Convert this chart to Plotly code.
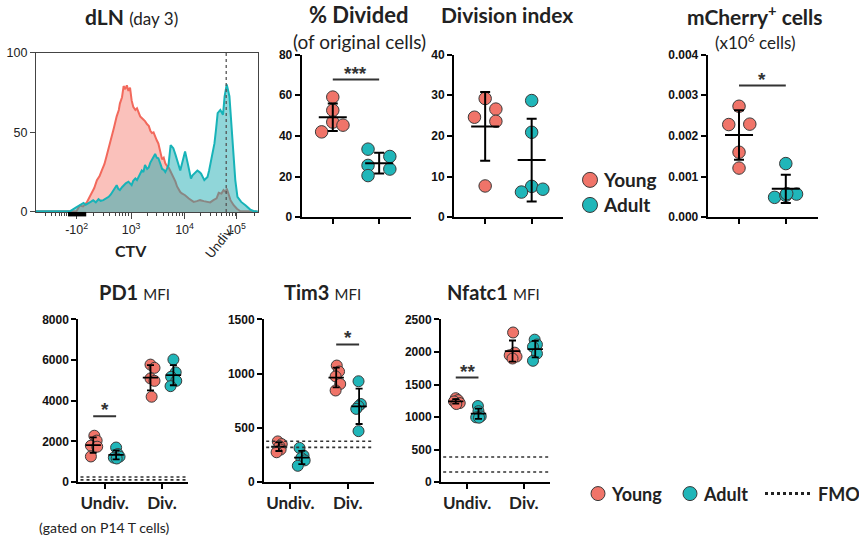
import plotly.graph_objects as go
import numpy as np

W, H = 859, 542

# ---------------- data ----------------
# CTV histogram (x in display decades of CTV, y in % of max)
hist_young_pos = [1.22, 1.60, 1.98, 2.04, 2.10, 2.17, 2.22, 2.26, 2.31, 2.36, 2.41, 2.45, 2.50, 2.54, 2.59, 2.64,
                  2.68, 2.73, 2.77, 2.79, 2.83, 2.86, 2.89, 2.92, 2.95, 2.98, 3.01, 3.04, 3.08, 3.11, 3.14, 3.17,
                  3.20, 3.23, 3.26, 3.30, 3.33, 3.36, 3.39, 3.42, 3.45, 3.48, 3.51, 3.55, 3.58, 3.61, 3.64, 3.67,
                  3.70, 3.73, 3.76, 3.80, 3.83, 3.86, 3.89, 3.92, 3.95, 4.01, 4.08, 4.17, 4.23, 4.29, 4.36, 4.42,
                  4.48, 4.54, 4.60, 4.64, 4.69, 4.73, 4.77, 4.79, 4.83, 4.86, 4.92, 4.98, 5.04, 5.23, 5.37]
hist_young = [0.4, 0.4, 0.6, 4.0, 3.5, 6.0, 9.0, 11.6, 15.0, 20.0, 22.5, 26.0, 30.0, 35.0, 41.0, 47.0,
              53.0, 60.0, 64.0, 68.0, 72.0, 79.0, 77.0, 79.5, 76.0, 78.0, 70.0, 66.0, 64.0, 65.0, 62.0, 60.0,
              59.0, 58.0, 57.0, 55.0, 54.0, 51.0, 49.5, 50.0, 47.0, 45.0, 43.0, 36.0, 33.0, 34.0, 30.5, 29.0,
              28.0, 26.0, 24.0, 22.0, 19.0, 16.0, 13.7, 12.5, 11.6, 10.5, 8.4, 6.3, 6.8, 7.4, 6.8, 6.3,
              6.0, 7.4, 8.5, 12.0, 11.5, 13.7, 12.5, 14.7, 10.0, 7.4, 4.2, 2.0, 0.6, 0.3, 0.2]
hist_adult_pos = [1.22, 1.60, 1.86, 1.98, 2.05, 2.11, 2.15, 2.20, 2.25, 2.29, 2.34, 2.39, 2.43, 2.48, 2.53, 2.58,
                  2.62, 2.67, 2.70, 2.73, 2.76, 2.79, 2.83, 2.86, 2.90, 2.95, 3.01, 3.04, 3.08, 3.11, 3.14, 3.17,
                  3.20, 3.23, 3.26, 3.30, 3.33, 3.36, 3.39, 3.42, 3.45, 3.48, 3.51, 3.55, 3.58, 3.61, 3.64, 3.67,
                  3.70, 3.74, 3.79, 3.83, 3.86, 3.89, 3.92, 3.97, 4.01, 4.06, 4.12, 4.15, 4.18, 4.21, 4.24, 4.28,
                  4.31, 4.34, 4.37, 4.40, 4.43, 4.46, 4.49, 4.53, 4.56, 4.59, 4.62, 4.67, 4.72, 4.75, 4.79, 4.84,
                  4.89, 4.95, 4.99, 5.06, 5.14, 5.23, 5.29, 5.37]
hist_adult = [0.4, 0.4, 0.5, 3.0, 4.5, 5.7, 4.5, 5.3, 6.5, 7.4, 6.0, 8.0, 7.0, 7.4, 8.5, 9.5,
              11.0, 13.7, 15.5, 16.8, 14.5, 13.7, 15.5, 16.8, 18.0, 19.0, 16.8, 19.5, 21.0, 20.0, 22.0, 24.0,
              26.0, 25.0, 29.5, 27.0, 28.0, 31.0, 32.6, 35.0, 36.4, 34.0, 33.7, 30.0, 27.0, 26.5, 25.0, 27.0,
              29.5, 42.0, 40.0, 36.0, 32.6, 29.0, 26.0, 32.6, 38.0, 30.5, 21.0, 23.0, 24.0, 25.5, 26.0, 25.0,
              24.0, 22.0, 20.0, 21.0, 22.0, 26.0, 30.5, 37.0, 43.0, 52.0, 62.0, 64.0, 61.0, 72.6, 80.0, 72.6,
              49.5, 20.0, 9.5, 6.3, 4.2, 1.5, 0.6, 0.3]
undiv_peak_pos = 4.78

groups = ["Young", "Adult"]

pct_divided_young = [42.0, 59.1, 52.6, 46.8, 45.3]
pct_divided_adult = [33.5, 25.5, 20.5, 29.9, 23.7]
division_index_young = [24.6, 29.2, 26.6, 23.6, 7.7]
division_index_adult = [28.7, 20.9, 7.6, 6.2, 6.9]
mcherry_young = [0.00273, 0.00228, 0.00229, 0.00160, 0.00121]
mcherry_adult = [0.00132, 0.00049, 0.00057, 0.00054, 0.00058]

mfi_categories = ["Undiv.", "Div."]
pd1_young_undiv = [2280, 2040, 1790, 1740, 1260]
pd1_adult_undiv = [1700, 1380, 1250, 1200, 1160]
pd1_young_div = [5780, 5620, 5100, 4980, 4200]
pd1_adult_div = [6030, 5400, 5180, 4980, 4720]
tim3_young_undiv = [375, 350, 330, 300, 275]
tim3_adult_undiv = [315, 245, 222, 200, 150]
tim3_young_div = [1075, 1020, 975, 905, 845]
tim3_adult_div = [930, 720, 700, 675, 470]
nfatc1_young_undiv = [1290, 1260, 1240, 1215, 1200]
nfatc1_adult_undiv = [1170, 1090, 1010, 995, 990]
nfatc1_young_div = [2300, 1990, 1950, 1930, 1900]
nfatc1_adult_div = [2190, 2115, 2080, 1975, 1865]
pd1_fmo = [110, 250]
tim3_fmo = [320, 376]
nfatc1_fmo = [154, 385]

# horizontal scatter of the dots (category units)
pct_divided_young_jit = [-0.24, 0.0, 0.0, 0.0, 0.22]
pct_divided_adult_jit = [-0.24, -0.24, -0.24, 0.23, 0.23]
division_index_young_jit = [-0.23, 0.0, 0.23, 0.23, 0.0]
division_index_adult_jit = [0.0, 0.0, 0.0, -0.22, 0.24]
mcherry_young_jit = [0.0, -0.22, 0.23, 0.0, 0.0]
mcherry_adult_jit = [0.0, -0.24, 0.23, 0.0, 0.02]
pd1_young_undiv_jit = [0.02, 0.06, -0.04, 0.07, -0.04]
pd1_adult_undiv_jit = [0.0, 0.03, 0.06, -0.04, 0.01]
pd1_young_div_jit = [0.0, 0.07, 0.0, 0.07, 0.02]
pd1_adult_div_jit = [0.0, 0.04, -0.04, 0.05, -0.05]
tim3_young_undiv_jit = [-0.02, 0.05, 0.01, 0.03, -0.04]
tim3_adult_undiv_jit = [-0.04, 0.03, -0.01, 0.05, -0.07]
tim3_young_div_jit = [0.01, 0.05, -0.01, 0.07, -0.01]
tim3_adult_div_jit = [-0.01, 0.03, -0.01, -0.05, -0.01]
nfatc1_young_undiv_jit = [0.0, 0.04, -0.03, 0.07, 0.01]
nfatc1_adult_undiv_jit = [-0.01, 0.0, 0.04, -0.04, 0.01]
nfatc1_young_div_jit = [0.01, 0.04, -0.05, 0.07, 0.0]
nfatc1_adult_div_jit = [-0.01, 0.03, -0.04, 0.03, -0.04]

# ---------------- style ----------------
YOUNG = "#F07469"
ADULT = "#20B6B9"
EDGE = "#3a3a3a"
TITLE_FONT = "Lato"
TICK_FONT = "Liberation Sans"

# the photographed page maps layout y -> 0.972*y + 7.5 ; place things so they land where intended
Y_SCALE, Y_OFF = 0.972, 7.5


def fy(y):
    return (y - Y_OFF) / Y_SCALE


def xd(a, b):
    return [a / W, b / W]


def yd(top, bottom):
    return [1 - fy(bottom) / H, 1 - fy(top) / H]


def P(px, py):
    return px / W, 1 - fy(py) / H


fig = go.Figure()

# ---------------- histogram ----------------
fig.add_trace(go.Scatter(x=hist_young_pos, y=hist_young, mode="lines", fill="tozeroy",
                         line=dict(color="#F2695C", width=2), fillcolor="rgba(242,107,94,0.42)",
                         xaxis="x", yaxis="y", showlegend=False, hoverinfo="skip"))
fig.add_trace(go.Scatter(x=hist_adult_pos, y=hist_adult, mode="lines", fill="tozeroy",
                         line=dict(color="#17B3B8", width=2), fillcolor="rgba(23,170,176,0.48)",
                         xaxis="x", yaxis="y", showlegend=False, hoverinfo="skip"))

minor_ticks = [1.2 + 0.65 * np.log10(k) for k in range(2, 10)]
minor_ticks += [d + np.log10(k) for d in (2, 3, 4, 5) for k in range(2, 10)
                if 2.25 < d + np.log10(k) < 5.37]

shapes = []
annotations = []

shapes.append(dict(type="line", xref="x", yref="y domain", x0=undiv_peak_pos, x1=undiv_peak_pos,
                   y0=0, y1=1, line=dict(color="#555", width=1.3, dash="dot"), layer="above"))
shapes.append(dict(type="rect", xref="x", yref="y domain", x0=1.82, x1=2.16, y0=-0.028, y1=0.0,
                   fillcolor="black", line=dict(width=0), layer="above"))

# ---------------- dot plots ----------------
axis_common = dict(showline=True, linewidth=2, linecolor="black", showgrid=False, zeroline=False,
                   ticks="outside", ticklen=5, tickwidth=2, tickcolor="black")


def add_points(xa, ya, base, vals, jit, color, size):
    fig.add_trace(go.Scatter(x=[base + j for j in jit], y=vals, mode="markers",
                             marker=dict(size=size, color=color, line=dict(color=EDGE, width=1)),
                             xaxis=xa, yaxis=ya, showlegend=False, hoverinfo="skip"))


def add_meansd(xa, ya, base, vals, mean_w, cap_w, thick):
    m = float(np.mean(vals))
    s = float(np.std(vals, ddof=1))
    fig.add_trace(go.Scatter(x=[base], y=[m], mode="markers",
                             marker=dict(symbol="line-ew", size=mean_w, color="black",
                                         line=dict(color="black", width=thick)),
                             error_y=dict(type="data", array=[s], visible=True, color="black",
                                          thickness=thick, width=cap_w),
                             xaxis=xa, yaxis=ya, showlegend=False, hoverinfo="skip"))


top_panels = [
    ("x2", "y2", pct_divided_young, pct_divided_adult, pct_divided_young_jit, pct_divided_adult_jit),
    ("x3", "y3", division_index_young, division_index_adult, division_index_young_jit, division_index_adult_jit),
    ("x4", "y4", mcherry_young, mcherry_adult, mcherry_young_jit, mcherry_adult_jit),
]
for xa, ya, yv, av, yj, aj in top_panels:
    add_points(xa, ya, 0, yv, yj, YOUNG, 12.5)
    add_points(xa, ya, 1, av, aj, ADULT, 12.5)
    add_meansd(xa, ya, 0, yv, 20, 5, 2)
    add_meansd(xa, ya, 1, av, 20, 5, 2)

GO = 0.2  # group offset inside an MFI category
bottom_panels = [
    ("x5", "y5", [(pd1_young_undiv, pd1_young_undiv_jit, pd1_adult_undiv, pd1_adult_undiv_jit),
                  (pd1_young_div, pd1_young_div_jit, pd1_adult_div, pd1_adult_div_jit)]),
    ("x6", "y6", [(tim3_young_undiv, tim3_young_undiv_jit, tim3_adult_undiv, tim3_adult_undiv_jit),
                  (tim3_young_div, tim3_young_div_jit, tim3_adult_div, tim3_adult_div_jit)]),
    ("x7", "y7", [(nfatc1_young_undiv, nfatc1_young_undiv_jit, nfatc1_adult_undiv, nfatc1_adult_undiv_jit),
                  (nfatc1_young_div, nfatc1_young_div_jit, nfatc1_adult_div, nfatc1_adult_div_jit)]),
]
for xa, ya, cats in bottom_panels:
    for ci, (yv, yj, av, aj) in enumerate(cats):
        add_points(xa, ya, ci - GO, yv, yj, YOUNG, 11)
        add_points(xa, ya, ci + GO, av, aj, ADULT, 11)
    for ci, (yv, yj, av, aj) in enumerate(cats):
        add_meansd(xa, ya, ci - GO, yv, 11, 3.5, 1.8)
        add_meansd(xa, ya, ci + GO, av, 11, 3.5, 1.8)

# FMO lines
for ya, xa, levels in (("y5", "x5", pd1_fmo), ("y6", "x6", tim3_fmo), ("y7", "x7", nfatc1_fmo)):
    for lv in levels:
        shapes.append(dict(type="line", xref=xa + " domain", yref=ya, x0=0.02, x1=1.0, y0=lv, y1=lv,
                           line=dict(color="#333", width=1.6, dash="dot")))

# significance bars
sig = [("x2", "y2", 0, 1, 67.7, "***"),
       ("x4", "y4", 0, 1, 0.00324, "*"),
       ("x5", "y5", -GO, GO, 3240, "*"),
       ("x6", "y6", 1 - GO, 1 + GO, 1270, "*"),
       ("x7", "y7", -GO, GO, 1607, "**")]
for xa, ya, x0, x1, yv, txt in sig:
    shapes.append(dict(type="line", xref=xa, yref=ya, x0=x0, x1=x1, y0=yv, y1=yv,
                       line=dict(color="#333", width=2)))
    annotations.append(dict(xref=xa, yref=ya, x=(x0 + x1) / 2, y=yv, text=txt, showarrow=False,
                            yanchor="bottom", yshift=-6,
                            font=dict(family=TICK_FONT, size=19, color="#333", weight="bold")))


# ---------------- texts ----------------
def txt(px, py, text, size, bold=False, xanchor="center", angle=0, family=TITLE_FONT, color="#222"):
    x, y = P(px, py)
    annotations.append(dict(xref="paper", yref="paper", x=x, y=y, text=text, showarrow=False,
                            xanchor=xanchor, yanchor="middle", textangle=angle,
                            font=dict(family=family, size=size, color=color,
                                      weight="bold" if bold else "normal")))


txt(131, 17, "<b>dLN</b> <span style='font-size:17px'>(day 3)</span>", 21)
txt(358, 15, "<b>% Divided</b>", 22)
txt(359, 42, "(of original cells)", 19)
txt(507, 15, "<b>Division index</b>", 21)
txt(755, 15, "<b>mCherry<sup>+</sup> cells</b>", 21)
txt(755, 42, "(x10<sup>6</sup> cells)", 17)
txt(134, 292, "<b>PD1</b> <span style='font-size:15px'>MFI</span>", 20)
txt(322, 292, "<b>Tim3</b> <span style='font-size:15px'>MFI</span>", 20)
txt(493, 292, "<b>Nfatc1</b> <span style='font-size:15px'>MFI</span>", 20)
txt(131, 250, "<b>CTV</b>", 16)
txt(219, 242, "Undiv.", 13, angle=-52)
txt(104, 527, "(gated on P14 T cells)", 14)


# legends (top and bottom)
def circle(cx, cy, r, color):
    x0, y0 = P(cx - r, cy + r)
    x1, y1 = P(cx + r, cy - r)
    shapes.append(dict(type="circle", xref="paper", yref="paper", x0=x0, x1=x1, y0=y0, y1=y1,
                       fillcolor=color, line=dict(color=EDGE, width=1)))


circle(590, 180, 7.5, YOUNG)
txt(601, 180, "<b>Young</b>", 19, xanchor="left")
circle(590, 205, 7.5, ADULT)
txt(601, 205, "<b>Adult</b>", 19, xanchor="left")

circle(598, 493, 7, YOUNG)
txt(609, 493, "<b>Young</b>", 18, xanchor="left")
circle(690, 493, 7, ADULT)
txt(701, 493, "<b>Adult</b>", 18, xanchor="left")
lx0, ly = P(765, 493)
lx1, _ = P(812, 493)
shapes.append(dict(type="line", xref="paper", yref="paper", x0=lx0, x1=lx1, y0=ly, y1=ly,
                   line=dict(color="#222", width=3, dash="dot")))
txt(816, 493, "<b>FMO</b>", 18, xanchor="left")

# ---------------- axes ----------------
ytick_font = dict(family=TICK_FONT, size=12, color="#111", weight="bold")
layout = dict(
    width=W, height=H, margin=dict(l=0, r=0, t=0, b=0), autosize=False,
    paper_bgcolor="white", plot_bgcolor="white", showlegend=False,
    xaxis=dict(domain=xd(36, 258), range=[1.22, 5.375], showline=True, mirror=True, linecolor="#444",
               linewidth=1.3, showgrid=False, zeroline=False, ticks="outside", ticklen=6, tickwidth=1.2,
               tickcolor="#444", tickmode="array", tickvals=[1.98, 3, 4, 4.97],
               ticktext=["-10<sup>2</sup>", "10<sup>3</sup>", "10<sup>4</sup>", "10<sup>5</sup>"],
               tickfont=dict(family=TICK_FONT, size=12.5, color="#222"),
               minor=dict(tickmode="array", tickvals=minor_ticks, ticks="outside", ticklen=3,
                          tickwidth=1, tickcolor="#444"),
               anchor="y"),
    yaxis=dict(domain=yd(53, 212), range=[0, 100], showline=True, mirror=True, linecolor="#444",
               linewidth=1.3, showgrid=False, zeroline=False, ticks="outside", ticklen=5, tickwidth=1.2,
               tickcolor="#444", tickvals=[0, 50, 100],
               tickfont=dict(family=TICK_FONT, size=12.5, color="#222"), anchor="x"),
)

top_specs = [(2, xd(301.7, 410.7), [0, 80], [0, 20, 40, 60, 80], None),
             (3, xd(454, 563.3), [0, 40], [0, 10, 20, 30, 40], None),
             (4, xd(707.7, 817.6), [0, 0.004], [0, 0.001, 0.002, 0.003, 0.004],
              ["0.000", "0.001", "0.002", "0.003", "0.004"])]
for i, dom, yr, tv, tt in top_specs:
    layout[f"xaxis{i}"] = dict(domain=dom, range=[-0.67, 1.68], tickvals=[0, 1], showticklabels=False,
                               anchor=f"y{i}", **axis_common)
    ya = dict(domain=yd(55, 217.3), range=yr, tickvals=tv, tickfont=ytick_font, anchor=f"x{i}",
              **axis_common)
    if tt:
        ya["ticktext"] = tt
    layout[f"yaxis{i}"] = ya

bot_specs = [(5, xd(78.3, 188.3), [0, 8000], [0, 2000, 4000, 6000, 8000]),
             (6, xd(264, 374), [0, 1500], [0, 500, 1000, 1500]),
             (7, xd(441, 550), [0, 2500], [0, 500, 1000, 1500, 2000, 2500])]
for i, dom, yr, tv in bot_specs:
    layout[f"xaxis{i}"] = dict(domain=dom, range=[-0.46, 1.46], tickvals=[0, 1], ticktext=mfi_categories,
                               tickfont=dict(family=TITLE_FONT, size=17, color="#222", weight="bold"),
                               anchor=f"y{i}", **axis_common)
    layout[f"yaxis{i}"] = dict(domain=yd(319.3, 481.5), range=yr, tickvals=tv, tickfont=ytick_font,
                               anchor=f"x{i}", **axis_common)

layout["shapes"] = shapes
layout["annotations"] = annotations
fig.update_layout(**layout)
fig.write_html(
    "out.html",
    config={"displayModeBar": False, "responsive": False},
    post_script=("document.documentElement.style.margin='0';document.body.style.margin='0';"
                 "document.body.style.overflow='hidden';"
                 "var gd=document.getElementById('{plot_id}');gd.style.position='fixed';"
                 "gd.style.left='0px';gd.style.top='0px';"),
)
